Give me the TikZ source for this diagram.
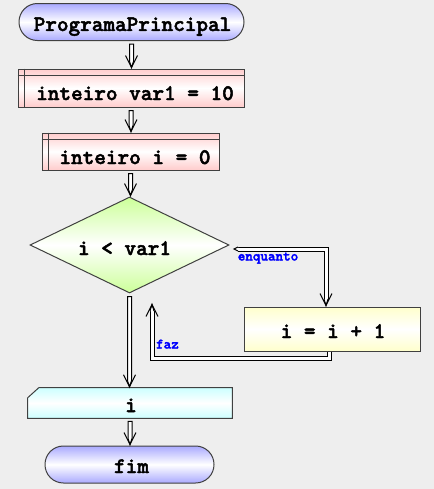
\documentclass[tikz,border=0pt]{standalone}
\usepackage{fontspec}
\newfontfamily\lmb{lmmonolt10-bold.otf}[FakeBold=2.2]
\usetikzlibrary{shapes.geometric,calc}
\definecolor{bgc}{HTML}{EEEEEE}
\definecolor{bordc}{HTML}{404040}
\definecolor{blueC}{HTML}{AAAAFF}
\definecolor{pinkC}{HTML}{FFCCCC}
\definecolor{greenC}{HTML}{CCFF99}
\definecolor{yelC}{HTML}{FFFFCC}
\definecolor{cyanC}{HTML}{CCFFFF}
\definecolor{lblC}{HTML}{0000FF}
\tikzset{
 shapebase/.style={draw=bordc, line width=0.75pt, inner sep=0pt},
 termbox/.style={shapebase, rounded corners=13.8pt, top color=blueC, bottom color=blueC, middle color=white},
 declbox/.style={shapebase, top color=pinkC, bottom color=pinkC, middle color=white},
 decision/.style={shapebase, diamond, top color=greenC, bottom color=greenC, middle color=white},
 procbox/.style={shapebase, top color=yelC, bottom color=yelC, middle color=white},
 outshape/.style={draw=bordc, line width=0.75pt, top color=cyanC, bottom color=cyanC, middle color=white},
 txt/.style={anchor=base, inner sep=0pt, font=\lmb\fontsize{16.6}{18}\selectfont},
 lbl/.style={anchor=base, inner sep=0pt, text=lblC, font=\lmb\fontsize{10.8}{12}\selectfont},
 shaft/.style={draw=black, line width=0.75pt, fill=white},
 barbst/.style={draw=black, line width=0.75pt},
 dbl/.style={draw=black, line width=0.75pt, double=white, double distance=2.25pt},
 hdr/.style={draw=bordc, line width=0.75pt},
}
\newcommand\vArrowDraw[2]{%
 \coordinate (s#1) at ($(#1.south)+(0,3)$);
 \coordinate (t#1) at ($(#1.south |- #2.north)+(0,-1)$);
 \draw[shaft] ($(s#1)+(-2,0)$) -- ($(s#1)+(2,0)$) -- ($(t#1)+(2,-6)$) -- (t#1) -- ($(t#1)+(-2,-6)$) -- cycle;
 \draw[barbst] ($(t#1)+(-6,-12)$) -- (t#1) -- ($(t#1)+(6,-12)$);}
\begin{document}
\begin{tikzpicture}[x=0.75pt,y=-0.75pt]
\useasboundingbox (0,0) rectangle (434,489);
\fill[bgc] (0,0) rectangle (434,489);

% shapes
\node[termbox, minimum width=225*0.75pt, minimum height=37*0.75pt] (pp) at (131.5,22) {};
\node[txt] (ppt) at (132.5,31) {ProgramaPrincipal};

\node[declbox, minimum width=226*0.75pt, minimum height=38*0.75pt] (v1) at (131,88) {};
\draw[hdr] ($(v1.north west)+(0,7)$) -- ($(v1.north east)+(0,7)$);
\draw[hdr] ($(v1.north west)+(7,0)$) -- ($(v1.south west)+(7,0)$);
\node[txt] (v1t) at (135,100) {inteiro var1 = 10};

\node[declbox, minimum width=177*0.75pt, minimum height=37*0.75pt] (i0) at (130.5,151.5) {};
\draw[hdr] ($(i0.north west)+(0,7)$) -- ($(i0.north east)+(0,7)$);
\draw[hdr] ($(i0.north west)+(7,0)$) -- ($(i0.south west)+(7,0)$);
\node[txt] (i0t) at (135,164) {inteiro i = 0};

\node[decision, minimum width=199*0.75pt, minimum height=96*0.75pt] (dia) at (129.5,245) {};
\node[txt] (diat) at (124.5,255) {i < var1};

\node[procbox, minimum width=176*0.75pt, minimum height=44*0.75pt] (inc) at (332,329) {};
\node[txt] (inct) at (333,338) {i = i + 1};

\node[inner sep=0pt, minimum width=204*0.75pt, minimum height=30*0.75pt] (out) at (130,403) {};
\draw[outshape] ($(out.north west)+(11,0)$) -- (out.north east) -- (out.south east) -- (out.south west) -- ($(out.north west)+(0,10)$) -- cycle;
\node[txt] (outt) at (131,412) {i};

\node[termbox, minimum width=169*0.75pt, minimum height=37*0.75pt] (fim) at (129.5,464.5) {};
\node[txt] (fimt) at (131.5,473) {fim};

% straight arrows
\vArrowDraw{pp}{v1}
\vArrowDraw{v1}{i0}
\vArrowDraw{i0}{dia}
\vArrowDraw{dia}{out}
\vArrowDraw{out}{fim}

% enquanto
\coordinate (e1) at ($(dia.east)+(8,4)$);
\coordinate (et) at ($(inc.north)+(-6,-1)$);
\draw[dbl] (e1) -| ($(et)+(0,-6)$);
\draw[shaft] ($(e1)+(0.5,-2)$) -- ($(e1)+(-3.5,0)$) -- ($(e1)+(0.5,2)$);
\draw[shaft] ($(et)+(-2,-6.5)$) -- (et) -- ($(et)+(2,-6.5)$);
\draw[barbst] ($(et)+(-6,-12)$) -- (et) -- ($(et)+(6,-12)$);
\node[lbl] (enq) at (268,260.5) {enquanto};

% faz
\coordinate (fs) at ($(inc.south)+(-2.5,0)$);
\coordinate (fazend) at ($(dia.south)+(22.5,11)$);
\draw[dbl] (fs) -- ++(0,7) -| ($(fazend)+(0,6)$);
\draw[shaft] ($(fazend)+(-2,6.5)$) -- (fazend) -- ($(fazend)+(2,6.5)$);
\draw[barbst] ($(fazend)+(-6,12)$) -- (fazend) -- ($(fazend)+(6,12)$);
\node[lbl] (fazl) at (167.5,348.5) {faz};
\end{tikzpicture}
\end{document}
